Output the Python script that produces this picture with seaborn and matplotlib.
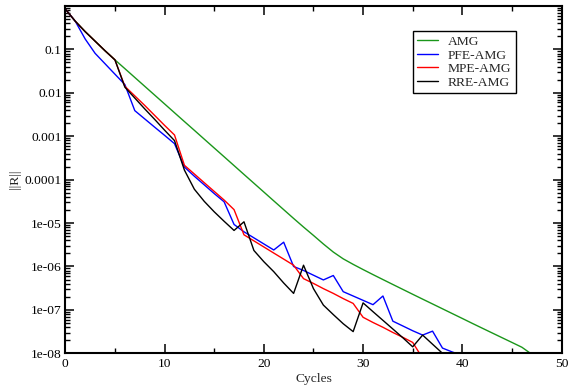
import numpy as np
import pandas as pd
import matplotlib
matplotlib.use("Agg")
import matplotlib.pyplot as plt
import seaborn as sns
from matplotlib.ticker import FixedLocator, MultipleLocator, LogLocator, NullFormatter

# ---------------- data ----------------
methods = ["AMG", "PFE-AMG", "MPE-AMG", "RRE-AMG"]
colors = ["#1a961a", "#0000ff", "#ff0000", "#000000"]

amg_cycles = list(range(0, 48))
amg_res = [0.851, 0.447, 0.257, 0.155, 0.0933, 0.0575, 0.0361, 0.0226, 0.01416, 0.00887,
           0.00556, 0.00348, 0.00218, 0.00137, 8.57e-4, 5.37e-4, 3.37e-4, 2.11e-4, 1.32e-4, 8.28e-5,
           5.19e-5, 3.25e-5, 2.04e-5, 1.28e-5, 8.1e-6, 5.2e-6, 3.3e-6, 2.15e-6, 1.5e-6, 1.12e-6,
           8.5e-7, 6.5e-7, 5.0e-7, 3.85e-7, 2.97e-7, 2.29e-7, 1.77e-7, 1.37e-7, 1.06e-7, 8.2e-8,
           6.35e-8, 4.9e-8, 3.8e-8, 2.95e-8, 2.29e-8, 1.78e-8, 1.38e-8, 9.5e-9]

pfe_cycles = list(range(0, 41))
pfe_res = [0.851, 0.447, 0.174, 0.0813, 0.0468, 0.0269, 0.0155, 0.00389, 0.00251, 0.00162,
           0.00105, 6.76e-4, 1.95e-4, 1.20e-4, 7.59e-5, 4.79e-5, 3.09e-5, 9.3e-6, 6.3e-6, 4.57e-6,
           3.31e-6, 2.40e-6, 3.63e-6, 1.0e-6, 8.1e-7, 6.3e-7, 4.9e-7, 6.2e-7, 2.63e-7, 2.09e-7,
           1.66e-7, 1.32e-7, 2.09e-7, 5.5e-8, 4.27e-8, 3.31e-8, 2.63e-8, 3.24e-8, 1.32e-8, 1.07e-8,
           8.9e-9]

mpe_cycles = list(range(0, 37))
mpe_res = [0.851, 0.447, 0.257, 0.155, 0.0933, 0.0575, 0.0141, 0.00851, 0.00513, 0.00302,
           0.00178, 0.00107, 2.14e-4, 1.35e-4, 8.5e-5, 5.37e-5, 3.39e-5, 2.04e-5, 5.37e-6, 3.89e-6,
           2.82e-6, 2.04e-6, 1.48e-6, 1.07e-6, 5.25e-7, 4.07e-7, 3.09e-7, 2.40e-7, 1.82e-7, 1.41e-7,
           6.76e-8, 5.13e-8, 3.98e-8, 3.02e-8, 2.34e-8, 1.78e-8, 7.7e-9]

rre_cycles = list(range(0, 40))
rre_res = [0.851, 0.447, 0.257, 0.155, 0.0933, 0.0575, 0.0135, 0.00759, 0.00427, 0.00245,
           0.00138, 7.94e-4, 1.66e-4, 6.03e-5, 3.16e-5, 1.82e-5, 1.10e-5, 6.76e-6, 1.07e-5, 2.34e-6,
           1.29e-6, 7.6e-7, 4.17e-7, 2.40e-7, 1.07e-6, 3.09e-7, 1.29e-7, 7.8e-8, 4.8e-8, 3.16e-8,
           1.45e-7, 9.1e-8, 5.75e-8, 3.63e-8, 2.29e-8, 1.41e-8, 2.63e-8, 1.62e-8, 1.0e-8, 6.2e-9]

xticks = [0, 10, 20, 30, 40, 50]
xtick_labels = ["0", "10", "20", "30", "40", "50"]
yticks = [1e-8, 1e-7, 1e-6, 1e-5, 1e-4, 1e-3, 1e-2, 1e-1, 1.0]
ytick_labels = ["1e-08", "1e-07", "1e-06", "1e-05", "0.0001", "0.001", "0.01", "0.1", ""]

# ---------------- build table ----------------
frames = []
for name, cyc, res in [("AMG", amg_cycles, amg_res), ("PFE-AMG", pfe_cycles, pfe_res),
                       ("MPE-AMG", mpe_cycles, mpe_res), ("RRE-AMG", rre_cycles, rre_res)]:
    frames.append(pd.DataFrame({"Cycles": cyc, "R": res, "Method": name}))
df = pd.concat(frames, ignore_index=True)

# ---------------- style ----------------
sns.set_theme(style="ticks")
plt.rcParams["font.family"] = ["Liberation Serif", "DejaVu Serif"]
FS = 9.7

fig = plt.figure(figsize=(5.68, 3.88), dpi=100)
fig.patch.set_facecolor("white")
ax = fig.add_axes([0.115, 0.0894, 0.9887 - 0.115, 0.9845 - 0.0894])
ax.set_facecolor("white")

sns.lineplot(data=df, x="Cycles", y="R", hue="Method", hue_order=methods,
             palette=dict(zip(methods, colors)), estimator=None, sort=False,
             linewidth=1.0, ax=ax)

ax.set_yscale("log")
ax.set_xlim(0, 50)
ax.set_ylim(1e-8, 1.0)

ax.xaxis.set_major_locator(FixedLocator(xticks))
ax.set_xticklabels(xtick_labels)
ax.xaxis.set_minor_locator(MultipleLocator(5))
ax.yaxis.set_major_locator(FixedLocator(yticks))
ax.set_yticklabels(ytick_labels)
ax.yaxis.set_minor_locator(LogLocator(base=10, subs=np.arange(2, 10), numticks=100))
ax.yaxis.set_minor_formatter(NullFormatter())

for s in ax.spines.values():
    s.set_linewidth(1.5)
    s.set_color("black")

ax.tick_params(which="both", direction="in", top=True, right=True, colors="black",
               labelsize=FS)
ax.tick_params(which="major", length=6.8, width=1.1)
ax.tick_params(which="minor", length=3.6, width=1.0)
ax.tick_params(axis="x", which="major", pad=3.5)
ax.tick_params(axis="y", which="major", pad=2.5)

ax.set_xlabel("Cycles", fontsize=FS, labelpad=2)
ax.set_ylabel("||R||", fontsize=FS)
ax.yaxis.set_label_coords(-0.089, 0.5)

handles, labels = ax.get_legend_handles_labels()
leg = ax.legend(handles, labels, loc="upper left", bbox_to_anchor=(0.70, 0.928),
                borderaxespad=0, fontsize=FS, frameon=True, fancybox=False,
                framealpha=1, edgecolor="black", handlelength=1.5, handletextpad=0.75,
                labelspacing=0.08, borderpad=0.35, title=None)
leg.get_frame().set_linewidth(1.0)

fig.savefig("out.png", dpi=100, facecolor="white")
